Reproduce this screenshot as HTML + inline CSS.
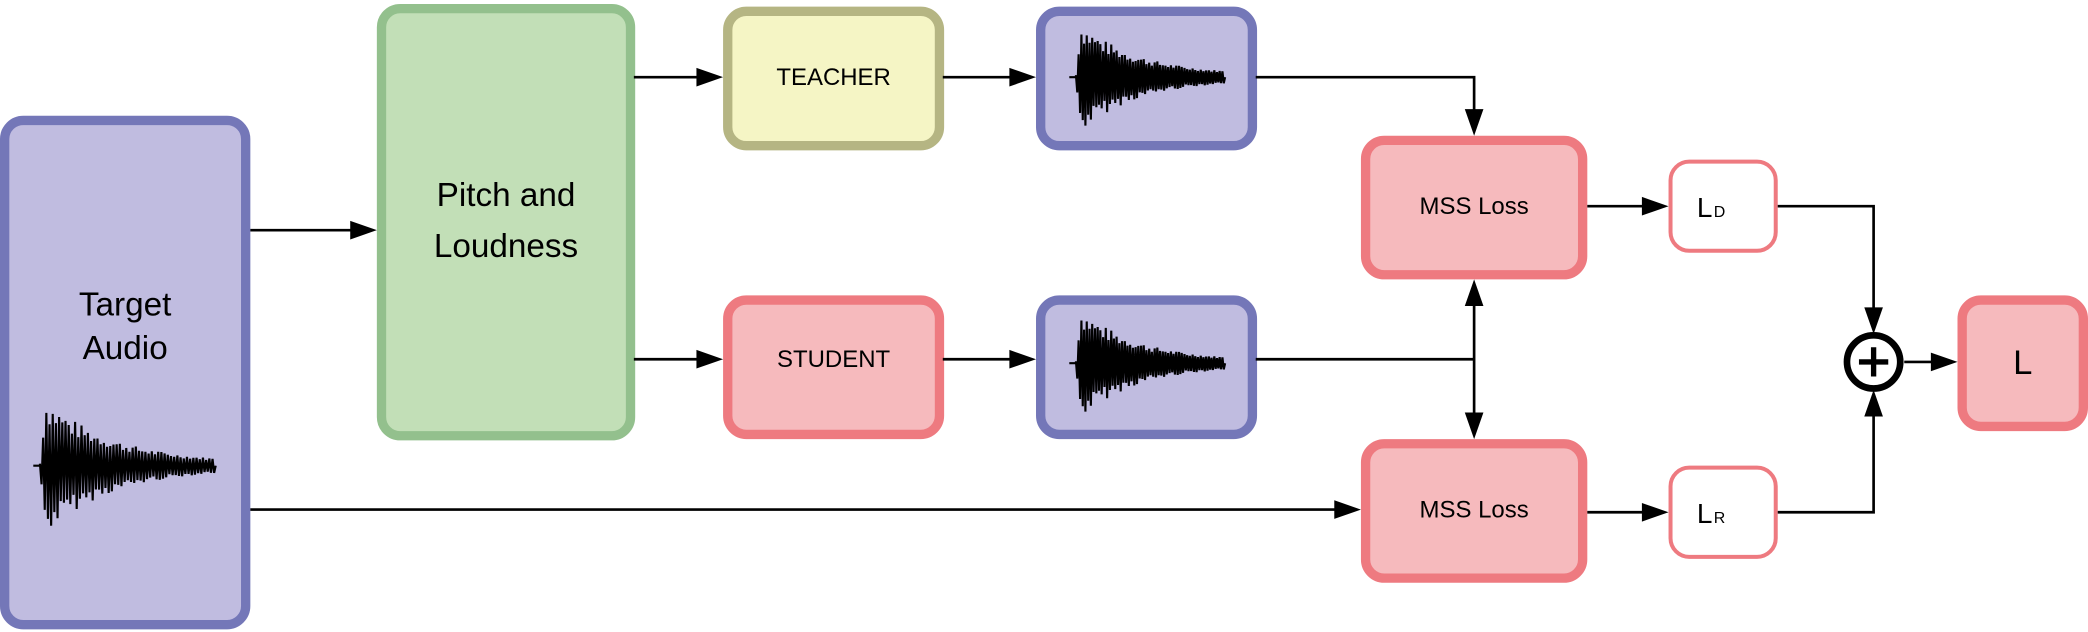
<!DOCTYPE html>
<html><head><meta charset="utf-8"><style>
html,body{margin:0;padding:0;background:#fff;width:2088px;height:632px;overflow:hidden}
svg{display:block}
text{font-family:"Liberation Sans",sans-serif;fill:#000}
</style></head><body>
<svg width="2088" height="632" viewBox="0 0 1568 475" preserveAspectRatio="none" xmlns="http://www.w3.org/2000/svg">
<g stroke-linejoin="round">
<rect x="3.5" y="90.5" width="181" height="379" rx="14" fill="#c0bce0" stroke="#7477b8" stroke-width="7"/>
<rect x="286.5" y="6.5" width="187" height="321" rx="14" fill="#c2dfb7" stroke="#93c08d" stroke-width="7"/>
<rect x="546.5" y="8.5" width="159" height="101" rx="14" fill="#f5f5c5" stroke="#b5b583" stroke-width="7"/>
<rect x="781.5" y="8.5" width="159" height="101" rx="14" fill="#c0bce0" stroke="#7477b8" stroke-width="7"/>
<rect x="546.5" y="225.5" width="159" height="101" rx="14" fill="#f6babd" stroke="#ee7a80" stroke-width="7"/>
<rect x="781.5" y="225.5" width="159" height="101" rx="14" fill="#c0bce0" stroke="#7477b8" stroke-width="7"/>
<rect x="1025.5" y="105.5" width="163" height="101" rx="14" fill="#f6babd" stroke="#ee7a80" stroke-width="7"/>
<rect x="1025.5" y="333.5" width="163" height="101" rx="14" fill="#f6babd" stroke="#ee7a80" stroke-width="7"/>
<rect x="1254.5" y="121.5" width="79" height="67" rx="14" fill="#fff" stroke="#ee7a80" stroke-width="3"/>
<rect x="1254.5" y="351.5" width="79" height="67" rx="14" fill="#fff" stroke="#ee7a80" stroke-width="3"/>
<rect x="1473.5" y="225.5" width="91" height="95" rx="14" fill="#f6babd" stroke="#ee7a80" stroke-width="7"/>
</g>
<g id="waves" fill="none" stroke="#000" stroke-width="1.6"></g>
<g fill="none" stroke="#000" stroke-width="2">
<path d="M188 173H265"/>
<path d="M476 58H525"/>
<path d="M476 270H525"/>
<path d="M708 58H760"/>
<path d="M708 270H760"/>
<path d="M943 58H1107V84"/>
<path d="M943 270H1107"/>
<path d="M1107 228V312"/>
<path d="M188 383H1004"/>
<path d="M1192 155H1235"/>
<path d="M1192 385H1235"/>
<path d="M1335 155H1407V232"/>
<path d="M1335 385H1407V313"/>
<path d="M1430 272H1452"/>
<circle cx="1407" cy="272" r="20" stroke-width="5" fill="#fff"/>
<path d="M1407 261V283M1396 272H1418" stroke-width="4"/>
</g>
<g fill="#000">
<path d="M283 173l-20-7v14z"/>
<path d="M543 58l-20-7v14z"/>
<path d="M543 270l-20-7v14z"/>
<path d="M778 58l-20-7v14z"/>
<path d="M778 270l-20-7v14z"/>
<path d="M1107 102l-7-20h14z"/>
<path d="M1107 210l-7 20h14z"/>
<path d="M1107 330l-7-20h14z"/>
<path d="M1022 383l-20-7v14z"/>
<path d="M1253 155l-20-7v14z"/>
<path d="M1253 385l-20-7v14z"/>
<path d="M1407 251l-7-20h14z"/>
<path d="M1407 293l-7 20h14z"/>
<path d="M1470 272l-20-7v14z"/>
</g>
<text x="94" y="237" font-size="25" text-anchor="middle">Target</text>
<text x="94" y="270" font-size="25" text-anchor="middle">Audio</text>
<text x="380" y="155" font-size="25" text-anchor="middle">Pitch and</text>
<text x="380" y="193" font-size="25" text-anchor="middle">Loudness</text>
<text x="626" y="64" font-size="18" text-anchor="middle">TEACHER</text>
<text x="626" y="276" font-size="18" text-anchor="middle">STUDENT</text>
<text x="1107" y="161" font-size="18" text-anchor="middle">MSS Loss</text>
<text x="1107" y="389" font-size="18" text-anchor="middle">MSS Loss</text>
<text x="1286" y="163" font-size="21" text-anchor="end">L</text><text x="1287" y="163" font-size="12">D</text>
<text x="1286" y="393" font-size="21" text-anchor="end">L</text><text x="1287" y="393" font-size="12">R</text>
<text x="1519" y="281" font-size="26" text-anchor="middle">L</text>
</svg>
<script>
(function(){
var g=document.getElementById('waves');
function wave(x0,y0,w,h){
 var n=110,s=7;
 function r(){s=(s*9301+49297)%233280;return s/233280;}
 var d='M'+(x0-5)+' '+y0+' L'+x0+' '+y0;
 for(var i=0;i<n;i++){
  var t=i/n, env=(t<0.03?t/0.03:Math.exp(-(t-0.03)*2.6));
  var amp=h*env*(0.6+0.4*r())+1.5;
  var sgn=(i%2?1:-1);
  d+=' L'+(x0+t*w).toFixed(1)+' '+(y0+sgn*amp).toFixed(1);
 }
 d+=' L'+(x0+w)+' '+y0;
 var p=document.createElementNS('http://www.w3.org/2000/svg','path');
 p.setAttribute('d',d);g.appendChild(p);
}
wave(808,58,112,40);
wave(808,273,112,40);
wave(30,350,132,50);
})();
</script>
</body></html>
